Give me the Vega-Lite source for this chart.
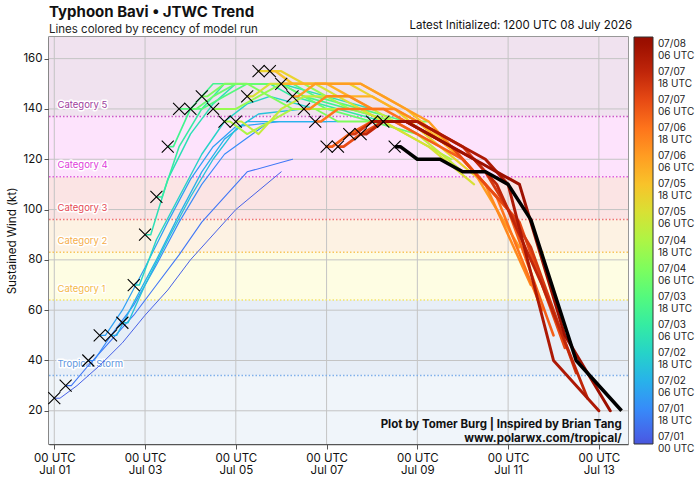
{
"$schema":"https://vega.github.io/schema/vega-lite/v6.json",
"width":579,"height":407,
"autosize":{"type":"none"},
"padding":{"left":49,"top":37,"right":71,"bottom":38},
"background":"white",
"config":{"font":"Inter","view":{"stroke":"#777","strokeWidth":1.5}},
"title":{"text":"Typhoon Bavi • JTWC Trend","subtitle":"Lines colored by recency of model run","anchor":"start","frame":"group","fontSize":15,"fontWeight":"bold","subtitleFontSize":11.5,"subtitlePadding":4,"offset":-15,"color":"#111","subtitleColor":"#222"},
"datasets":{
"bands":[{"b":"TD","lo":0,"hi":34},{"b":"TS","lo":34,"hi":64},{"b":"C1","lo":64,"hi":83},{"b":"C2","lo":83,"hi":96},{"b":"C3","lo":96,"hi":113},{"b":"C4","lo":113,"hi":137},{"b":"C5","lo":137,"hi":200}],
"thr":[{"c":"Tropical Storm","v":34},{"c":"Category 1","v":64},{"c":"Category 2","v":83},{"c":"Category 3","v":96},{"c":"Category 4","v":113},{"c":"Category 5","v":137}],
"gx":[{"h":0},{"h":48},{"h":96},{"h":144},{"h":192},{"h":240},{"h":288}],
"gy":[{"v":20},{"v":40},{"v":60},{"v":80},{"v":100},{"v":120},{"v":140},{"v":160}],
"fc":[
{"r":0,"h":0,"v":25},{"r":0,"h":3,"v":25},{"r":0,"h":12,"v":30},{"r":0,"h":24,"v":38},{"r":0,"h":36,"v":47},{"r":0,"h":48,"v":58},{"r":0,"h":60,"v":68},{"r":0,"h":72,"v":80},{"r":0,"h":96,"v":100},{"r":0,"h":120,"v":115},
{"r":1,"h":6,"v":30},{"r":1,"h":9,"v":30},{"r":1,"h":18,"v":38},{"r":1,"h":30,"v":48},{"r":1,"h":42,"v":58},{"r":1,"h":54,"v":70},{"r":1,"h":66,"v":82},{"r":1,"h":78,"v":95},{"r":1,"h":102,"v":115},{"r":1,"h":126,"v":120},
{"r":2,"h":18,"v":40},{"r":2,"h":21,"v":40},{"r":2,"h":30,"v":50},{"r":2,"h":42,"v":62},{"r":2,"h":54,"v":78},{"r":2,"h":66,"v":95},{"r":2,"h":78,"v":110},{"r":2,"h":90,"v":122},{"r":2,"h":114,"v":135},{"r":2,"h":138,"v":135},
{"r":3,"h":24,"v":50},{"r":3,"h":27,"v":50},{"r":3,"h":36,"v":60},{"r":3,"h":48,"v":77},{"r":3,"h":60,"v":95},{"r":3,"h":72,"v":112},{"r":3,"h":84,"v":125},{"r":3,"h":96,"v":133},{"r":3,"h":120,"v":135},{"r":3,"h":144,"v":135},
{"r":4,"h":30,"v":50},{"r":4,"h":33,"v":50},{"r":4,"h":42,"v":63},{"r":4,"h":54,"v":80},{"r":4,"h":66,"v":98},{"r":4,"h":78,"v":115},{"r":4,"h":90,"v":128},{"r":4,"h":102,"v":135},{"r":4,"h":126,"v":135},{"r":4,"h":150,"v":135},
{"r":5,"h":36,"v":55},{"r":5,"h":39,"v":55},{"r":5,"h":48,"v":70},{"r":5,"h":60,"v":88},{"r":5,"h":72,"v":105},{"r":5,"h":84,"v":120},{"r":5,"h":96,"v":132},{"r":5,"h":108,"v":138},{"r":5,"h":132,"v":140},{"r":5,"h":156,"v":140},
{"r":6,"h":42,"v":70},{"r":6,"h":45,"v":70},{"r":6,"h":54,"v":88},{"r":6,"h":66,"v":105},{"r":6,"h":78,"v":122},{"r":6,"h":90,"v":135},{"r":6,"h":102,"v":142},{"r":6,"h":114,"v":145},{"r":6,"h":138,"v":140},{"r":6,"h":162,"v":140},
{"r":7,"h":48,"v":90},{"r":7,"h":51,"v":90},{"r":7,"h":60,"v":112},{"r":7,"h":72,"v":130},{"r":7,"h":84,"v":142},{"r":7,"h":96,"v":150},{"r":7,"h":108,"v":150},{"r":7,"h":120,"v":150},{"r":7,"h":144,"v":145},{"r":7,"h":168,"v":140},
{"r":8,"h":54,"v":105},{"r":8,"h":57,"v":105},{"r":8,"h":66,"v":125},{"r":8,"h":78,"v":140},{"r":8,"h":90,"v":150},{"r":8,"h":102,"v":150},{"r":8,"h":114,"v":150},{"r":8,"h":126,"v":145},{"r":8,"h":150,"v":140},{"r":8,"h":174,"v":135},
{"r":9,"h":60,"v":125},{"r":9,"h":63,"v":125},{"r":9,"h":72,"v":140},{"r":9,"h":84,"v":150},{"r":9,"h":96,"v":150},{"r":9,"h":108,"v":150},{"r":9,"h":120,"v":150},{"r":9,"h":132,"v":145},{"r":9,"h":156,"v":140},{"r":9,"h":180,"v":135},
{"r":10,"h":66,"v":140},{"r":10,"h":69,"v":140},{"r":10,"h":78,"v":140},{"r":10,"h":90,"v":145},{"r":10,"h":102,"v":150},{"r":10,"h":114,"v":150},{"r":10,"h":126,"v":150},{"r":10,"h":138,"v":145},{"r":10,"h":162,"v":140},{"r":10,"h":186,"v":135},
{"r":11,"h":72,"v":140},{"r":11,"h":75,"v":140},{"r":11,"h":84,"v":145},{"r":11,"h":96,"v":150},{"r":11,"h":108,"v":150},{"r":11,"h":120,"v":150},{"r":11,"h":132,"v":145},{"r":11,"h":144,"v":140},{"r":11,"h":168,"v":135},{"r":11,"h":192,"v":130},
{"r":12,"h":78,"v":145},{"r":12,"h":81,"v":145},{"r":12,"h":90,"v":150},{"r":12,"h":102,"v":150},{"r":12,"h":114,"v":145},{"r":12,"h":126,"v":140},{"r":12,"h":138,"v":140},{"r":12,"h":150,"v":135},{"r":12,"h":174,"v":135},{"r":12,"h":198,"v":135},
{"r":13,"h":84,"v":140},{"r":13,"h":87,"v":140},{"r":13,"h":96,"v":140},{"r":13,"h":108,"v":145},{"r":13,"h":120,"v":150},{"r":13,"h":132,"v":150},{"r":13,"h":144,"v":145},{"r":13,"h":156,"v":140},{"r":13,"h":180,"v":135},{"r":13,"h":204,"v":125},
{"r":14,"h":90,"v":135},{"r":14,"h":93,"v":135},{"r":14,"h":102,"v":130},{"r":14,"h":114,"v":135},{"r":14,"h":126,"v":140},{"r":14,"h":138,"v":140},{"r":14,"h":150,"v":140},{"r":14,"h":162,"v":140},{"r":14,"h":186,"v":130},{"r":14,"h":210,"v":120},
{"r":15,"h":96,"v":135},{"r":15,"h":99,"v":135},{"r":15,"h":108,"v":130},{"r":15,"h":120,"v":140},{"r":15,"h":132,"v":145},{"r":15,"h":144,"v":145},{"r":15,"h":156,"v":145},{"r":15,"h":168,"v":140},{"r":15,"h":192,"v":130},{"r":15,"h":216,"v":115},
{"r":16,"h":102,"v":145},{"r":16,"h":105,"v":145},{"r":16,"h":114,"v":150},{"r":16,"h":126,"v":150},{"r":16,"h":138,"v":150},{"r":16,"h":150,"v":145},{"r":16,"h":162,"v":140},{"r":16,"h":174,"v":135},{"r":16,"h":198,"v":125},{"r":16,"h":222,"v":110},
{"r":17,"h":108,"v":155},{"r":17,"h":111,"v":155},{"r":17,"h":120,"v":155},{"r":17,"h":132,"v":150},{"r":17,"h":144,"v":150},{"r":17,"h":156,"v":150},{"r":17,"h":168,"v":145},{"r":17,"h":180,"v":140},{"r":17,"h":204,"v":125},{"r":17,"h":228,"v":110},
{"r":18,"h":114,"v":155},{"r":18,"h":117,"v":155},{"r":18,"h":126,"v":150},{"r":18,"h":138,"v":150},{"r":18,"h":150,"v":150},{"r":18,"h":162,"v":150},{"r":18,"h":174,"v":145},{"r":18,"h":186,"v":140},{"r":18,"h":210,"v":125},{"r":18,"h":234,"v":105},
{"r":19,"h":120,"v":150},{"r":19,"h":123,"v":150},{"r":19,"h":132,"v":150},{"r":19,"h":144,"v":150},{"r":19,"h":156,"v":145},{"r":19,"h":168,"v":145},{"r":19,"h":180,"v":140},{"r":19,"h":192,"v":135},{"r":19,"h":216,"v":120},{"r":19,"h":240,"v":100},
{"r":20,"h":126,"v":145},{"r":20,"h":129,"v":145},{"r":20,"h":138,"v":150},{"r":20,"h":150,"v":150},{"r":20,"h":162,"v":150},{"r":20,"h":174,"v":145},{"r":20,"h":186,"v":140},{"r":20,"h":198,"v":135},{"r":20,"h":222,"v":115},{"r":20,"h":246,"v":85},
{"r":21,"h":132,"v":140},{"r":21,"h":135,"v":140},{"r":21,"h":144,"v":145},{"r":21,"h":156,"v":145},{"r":21,"h":168,"v":140},{"r":21,"h":180,"v":140},{"r":21,"h":192,"v":135},{"r":21,"h":204,"v":130},{"r":21,"h":228,"v":110},{"r":21,"h":252,"v":70},
{"r":22,"h":138,"v":135},{"r":22,"h":141,"v":135},{"r":22,"h":150,"v":140},{"r":22,"h":162,"v":140},{"r":22,"h":174,"v":140},{"r":22,"h":186,"v":135},{"r":22,"h":198,"v":130},{"r":22,"h":210,"v":125},{"r":22,"h":234,"v":105},{"r":22,"h":258,"v":60},
{"r":23,"h":144,"v":125},{"r":23,"h":147,"v":125},{"r":23,"h":156,"v":130},{"r":23,"h":168,"v":135},{"r":23,"h":180,"v":135},{"r":23,"h":192,"v":130},{"r":23,"h":204,"v":125},{"r":23,"h":216,"v":120},{"r":23,"h":240,"v":100},{"r":23,"h":264,"v":50},
{"r":24,"h":150,"v":125},{"r":24,"h":153,"v":125},{"r":24,"h":162,"v":130},{"r":24,"h":174,"v":135},{"r":24,"h":186,"v":135},{"r":24,"h":198,"v":130},{"r":24,"h":210,"v":125},{"r":24,"h":222,"v":115},{"r":24,"h":246,"v":95},{"r":24,"h":270,"v":45},
{"r":25,"h":156,"v":130},{"r":25,"h":159,"v":130},{"r":25,"h":168,"v":135},{"r":25,"h":180,"v":135},{"r":25,"h":192,"v":135},{"r":25,"h":204,"v":130},{"r":25,"h":216,"v":125},{"r":25,"h":228,"v":115},{"r":25,"h":252,"v":85},{"r":25,"h":276,"v":35},
{"r":26,"h":162,"v":130},{"r":26,"h":165,"v":130},{"r":26,"h":174,"v":135},{"r":26,"h":186,"v":135},{"r":26,"h":198,"v":130},{"r":26,"h":210,"v":125},{"r":26,"h":222,"v":120},{"r":26,"h":234,"v":110},{"r":26,"h":258,"v":70},{"r":26,"h":282,"v":25},
{"r":27,"h":168,"v":135},{"r":27,"h":171,"v":135},{"r":27,"h":180,"v":135},{"r":27,"h":192,"v":135},{"r":27,"h":204,"v":130},{"r":27,"h":216,"v":125},{"r":27,"h":228,"v":120},{"r":27,"h":240,"v":110},{"r":27,"h":264,"v":40},{"r":27,"h":288,"v":20},
{"r":28,"h":174,"v":135},{"r":28,"h":177,"v":135},{"r":28,"h":186,"v":135},{"r":28,"h":198,"v":130},{"r":28,"h":210,"v":125},{"r":28,"h":222,"v":120},{"r":28,"h":234,"v":115},{"r":28,"h":246,"v":110},{"r":28,"h":270,"v":50},{"r":28,"h":294,"v":20},
{"r":29,"h":180,"v":125},{"r":29,"h":183,"v":125},{"r":29,"h":192,"v":120},{"r":29,"h":204,"v":120},{"r":29,"h":216,"v":115},{"r":29,"h":228,"v":115},{"r":29,"h":240,"v":110},{"r":29,"h":252,"v":96},{"r":29,"h":276,"v":40},{"r":29,"h":300,"v":20}
]},
"layer":[
{"data":{"name":"bands"},"mark":{"type":"rect","clip":true},
 "encoding":{
  "x":{"datum":-3,"type":"quantitative","scale":{"domain":[-2.8,303.4],"nice":false,"zero":false}},
  "x2":{"datum":304},
  "y":{"field":"lo","type":"quantitative","scale":{"domain":[6.8,168.6],"nice":false,"zero":false}},
  "y2":{"field":"hi"},
  "fill":{"field":"b","type":"nominal","legend":null,"scale":{"domain":["TD","TS","C1","C2","C3","C4","C5"],"range":["#f0f5fa","#e7eef7","#fefde3","#fdf2e3","#fbe4e4","#fde3fc","#f0e2ef"]}}}},
{"data":{"name":"gx"},"mark":{"type":"rule","color":"#c4c4c4","strokeWidth":1},
 "encoding":{"x":{"field":"h","type":"quantitative","scale":{"domain":[-2.8,303.4],"nice":false,"zero":false}}}},
{"data":{"name":"gy"},"mark":{"type":"rule","color":"#c4c4c4","strokeWidth":1},
 "encoding":{"y":{"field":"v","type":"quantitative","scale":{"domain":[6.8,168.6],"nice":false,"zero":false}}}},
{"data":{"name":"thr"},"mark":{"type":"rule","strokeWidth":1.5,"strokeDash":[1.5,2]},
 "encoding":{"y":{"field":"v","type":"quantitative","scale":{"domain":[6.8,168.6],"nice":false,"zero":false}},
  "stroke":{"field":"c","type":"nominal","legend":null,"scale":{"domain":["Tropical Storm","Category 1","Category 2","Category 3","Category 4","Category 5"],"range":["#7fb0ea","#f3e36a","#f8c65c","#ef7474","#e060e0","#cc58c8"]}}}},
{"data":{"name":"thr"},"mark":{"type":"text","align":"left","baseline":"middle","dy":-11.6,"fontSize":9.5,"stroke":"white","strokeWidth":3,"strokeJoin":"round","fill":"white"},
 "encoding":{"x":{"datum":1.7,"type":"quantitative","scale":{"domain":[-2.8,303.4],"nice":false,"zero":false}},
  "y":{"field":"v","type":"quantitative","scale":{"domain":[6.8,168.6],"nice":false,"zero":false}},
  "text":{"field":"c"}}},
{"data":{"name":"thr"},"mark":{"type":"text","align":"left","baseline":"middle","dy":-11.6,"fontSize":9.5},
 "encoding":{"x":{"datum":1.7,"type":"quantitative","scale":{"domain":[-2.8,303.4],"nice":false,"zero":false}},
  "y":{"field":"v","type":"quantitative","scale":{"domain":[6.8,168.6],"nice":false,"zero":false}},
  "text":{"field":"c"},
  "color":{"field":"c","type":"nominal","legend":null,"scale":{"domain":["Tropical Storm","Category 1","Category 2","Category 3","Category 4","Category 5"],"range":["#5e96e0","#f4b948","#f6ad4a","#e54a55","#e040dc","#a03d9e"]}}}},
{"data":{"name":"fc"},"transform":[{"filter":"datum.r <= 28"}],
 "mark":{"type":"line","strokeJoin":"round","strokeCap":"round"},
 "encoding":{
  "x":{"field":"h","type":"quantitative","scale":{"domain":[-2.8,303.4],"nice":false,"zero":false},
   "axis":{"values":[0,48,96,144,192,240,288],"labelExpr":"['00 UTC', 'Jul ' + (floor(datum.value/24)+1 < 10 ? '0' : '') + (floor(datum.value/24)+1)]","title":null,"grid":false,"labelFontSize":11.5,"labelColor":"#111","tickColor":"#555","tickSize":5,"domainColor":"#555","domainWidth":1.5,"labelPadding":3,"labelLineHeight":12.5,"labelFlush":false,"labelOverlap":false}},
  "y":{"field":"v","type":"quantitative","scale":{"domain":[6.8,168.6],"nice":false,"zero":false},
   "axis":{"values":[20,40,60,80,100,120,140,160],"title":"Sustained Wind (kt)","grid":false,"labelFontSize":11.5,"titleFontSize":11.5,"titleFontWeight":"normal","titleColor":"#111","labelColor":"#111","tickColor":"#555","tickSize":5,"domainColor":"#555","domainWidth":1.5,"labelPadding":2,"titlePadding":5,"labelOverlap":false}},
  "detail":{"field":"r"},
  "color":{"field":"r","type":"quantitative","scale":{"domain":[-0.5,28.5],"scheme":{"name":"turbo","extent":[0.1,0.98]}},
   "legend":{"title":null,"orient":"right","offset":6,"padding":0,"gradientLength":407,"gradientThickness":19,"gradientStrokeColor":"#333","gradientStrokeWidth":1,"values":[0,2,4,6,8,10,12,14,16,18,20,22,24,26,28],"labelFontSize":10,"labelColor":"#222","labelOffset":5,"labelOverlap":false,"labelExpr":"datum.value == 0 ? ['07/01','00 UTC'] : ['07/0' + (floor((datum.value+1)*6/24)+1), (((datum.value+1)*6)%24 < 10 ? '0' : '') + (((datum.value+1)*6)%24) + ' UTC']"}},
  "strokeWidth":{"field":"r","type":"quantitative","legend":null,"scale":{"domain":[0,28],"range":[1,3]}}}},
{"data":{"name":"fc"},"transform":[{"filter":"datum.r == 29"}],
 "mark":{"type":"line","color":"black","strokeWidth":3.5,"strokeJoin":"round"},
 "encoding":{"x":{"field":"h","type":"quantitative","scale":{"domain":[-2.8,303.4],"nice":false,"zero":false}},
  "y":{"field":"v","type":"quantitative","scale":{"domain":[6.8,168.6],"nice":false,"zero":false}}}},
{"data":{"name":"fc"},"transform":[{"joinaggregate":[{"op":"min","field":"h","as":"h0"}],"groupby":["r"]},{"filter":"datum.h == datum.h0"}],
 "mark":{"type":"point","shape":"M-1,-1L1,1M-1,1L1,-1","filled":false,"color":"black","strokeWidth":1.1,"size":144,"opacity":1},
 "encoding":{"x":{"field":"h","type":"quantitative","scale":{"domain":[-2.8,303.4],"nice":false,"zero":false}},
  "y":{"field":"v","type":"quantitative","scale":{"domain":[6.8,168.6],"nice":false,"zero":false}}}},
{"data":{"values":[{}]},"mark":{"type":"text","align":"right","baseline":"middle","fontSize":11.5,"color":"#111","text":"Latest Initialized: 1200 UTC 08 July 2026"},
 "encoding":{"x":{"datum":305.6,"type":"quantitative","scale":{"domain":[-2.8,303.4],"nice":false,"zero":false}},
  "y":{"datum":172.8,"type":"quantitative","scale":{"domain":[6.8,168.6],"nice":false,"zero":false}}}},
{"data":{"values":[{}]},"mark":{"type":"text","align":"right","baseline":"top","fontSize":11.5,"fontWeight":"bold","color":"#111","lineHeight":14,"text":["Plot by Tomer Burg | Inspired by Brian Tang","www.polarwx.com/tropical/"]},
 "encoding":{"x":{"datum":300.1,"type":"quantitative","scale":{"domain":[-2.8,303.4],"nice":false,"zero":false}},
  "y":{"datum":16.6,"type":"quantitative","scale":{"domain":[6.8,168.6],"nice":false,"zero":false}}}}
],
"resolve":{"scale":{"color":"independent","fill":"independent","stroke":"independent"}}
}
